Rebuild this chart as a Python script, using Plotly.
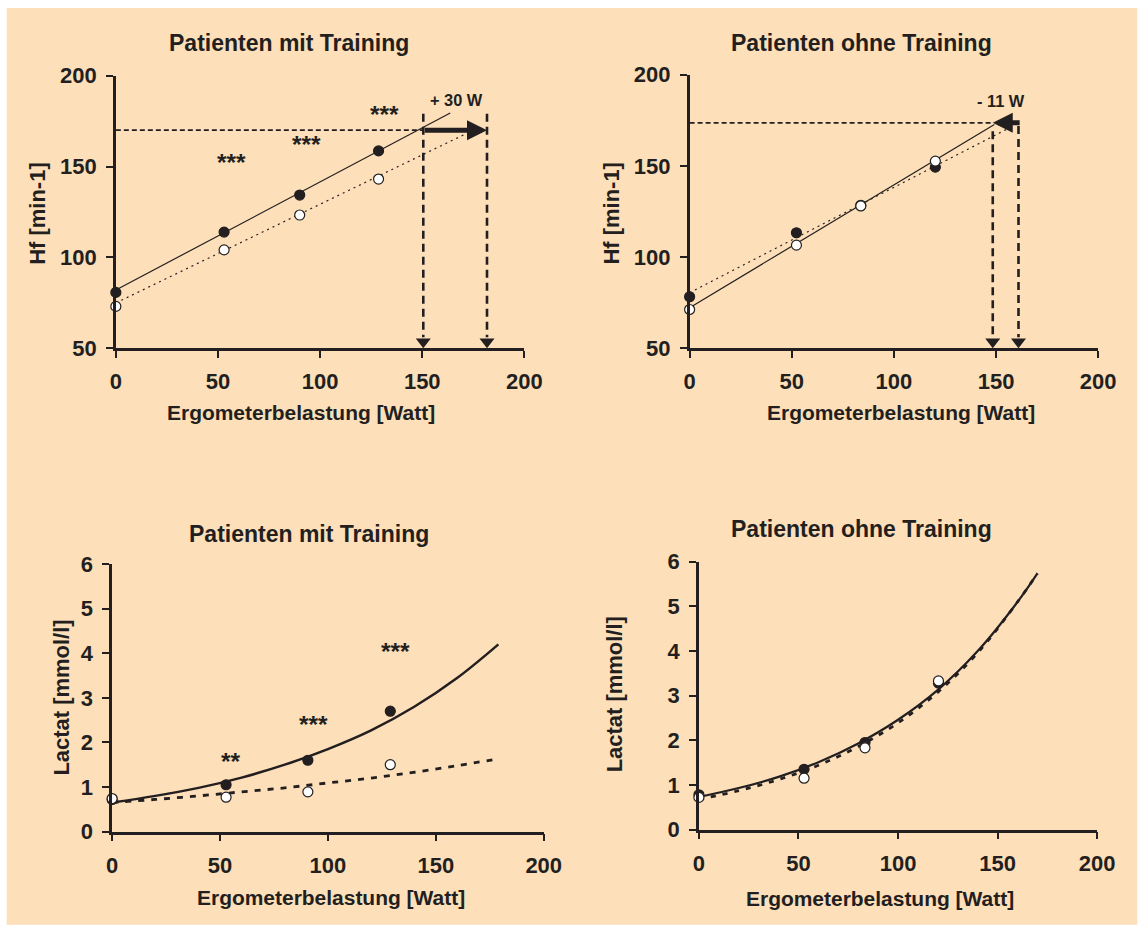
import plotly.graph_objects as go

# ---------------- data ----------------
watt_tl = [0, 53, 90, 128.6]
hf_tl_filled = [80.7, 113.9, 134.3, 158.6]
hf_tl_open = [73.0, 104.1, 123.3, 143.1]
fit_tl_solid_x = [0, 163.7]
fit_tl_solid_y = [82.0, 179.5]
fit_tl_dot_x = [0, 175]
fit_tl_dot_y = [74.9, 170.0]

watt_tr = [0, 52.3, 83.8, 120.3]
hf_tr_filled = [78.2, 113.3, 128.4, 149.3]
hf_tr_open = [71.2, 106.5, 128.0, 152.6]
fit_tr_solid_x = [0, 149.2]
fit_tr_solid_y = [72.2, 172.7]
fit_tr_dot_x = [0, 158.2]
fit_tr_dot_y = [80.4, 171.8]

watt_bl = [0, 52.8, 90.7, 128.9]
lac_bl_filled = [0.72, 1.05, 1.60, 2.70]
lac_bl_open = [0.74, 0.77, 0.89, 1.50]
curve_bl_x = [0, 20, 40, 60, 80, 100, 120, 140, 160, 179]
curve_bl_solid = [0.65, 0.80, 0.98, 1.21, 1.50, 1.85, 2.27, 2.80, 3.45, 4.20]
curve_bl_dash = [0.65, 0.72, 0.80, 0.89, 0.98, 1.09, 1.20, 1.33, 1.48, 1.63]

watt_br = [0, 52.8, 83.4, 120.3]
lac_br_filled = [0.78, 1.35, 1.95, 3.28]
lac_br_open = [0.72, 1.15, 1.83, 3.33]
curve_br_x = [0, 20, 40, 60, 80, 100, 120, 140, 160, 170]
curve_br_solid = [0.73, 0.93, 1.18, 1.51, 1.93, 2.46, 3.13, 4.00, 5.10, 5.74]
curve_br_dash = [0.68, 0.87, 1.12, 1.44, 1.86, 2.39, 3.08, 3.96, 5.10, 5.74]

# threshold constructions
tl_hf_level = 170
tl_watt_from, tl_watt_to = 150.5, 181.7
tl_vert_top = 179
tr_hf_level = 173.6
tr_watt_from, tr_watt_to = 162.3, 148.4
tr_vert_x = [148.4, 161.0]
tr_vert_tops = [169.0, 171.8]

titles = ["Patienten mit Training", "Patienten ohne Training",
          "Patienten mit Training", "Patienten ohne Training"]
xlabel = "Ergometerbelastung [Watt]"
ylabel_top = "Hf [min-1]"
ylabel_bot = "Lactat [mmol/l]"

INK = "#231f20"
BG = "#fddfb9"
FONT = "Liberation Sans, Arial, sans-serif"

# observed mapping from figure pixels to photographed pixels
OFF_X, OFF_Y, SCALE = 6.3, 11.0, 0.978
W, H = 1160, 944
FS = 1 / SCALE


def px(t):
    return (t - OFF_X) / SCALE / W


def py(t):
    return 1 - (t - OFF_Y) / SCALE / H


fig = go.Figure()


def add_points(x, y, filled, ax):
    fig.add_trace(go.Scatter(
        x=x, y=y, mode="markers", xaxis="x" + ax, yaxis="y" + ax,
        marker=dict(size=10, color=INK if filled else "white",
                    line=dict(color=INK, width=1.2)),
        cliponaxis=False, showlegend=False, hoverinfo="skip"))


def add_line(x, y, ax, width, dash, shape="linear"):
    fig.add_trace(go.Scatter(
        x=x, y=y, mode="lines", xaxis="x" + ax, yaxis="y" + ax,
        line=dict(color=INK, width=width, dash=dash, shape=shape),
        cliponaxis=False, showlegend=False, hoverinfo="skip"))


# panel 1 (top-left)
add_line(fit_tl_dot_x, fit_tl_dot_y, "", 1.2, "2px,4px")
add_line(fit_tl_solid_x, fit_tl_solid_y, "", 1.2, "solid")
add_points(watt_tl, hf_tl_open, False, "")
add_points(watt_tl, hf_tl_filled, True, "")

# panel 2 (top-right)
add_line(fit_tr_dot_x, fit_tr_dot_y, "2", 1.2, "2px,4px")
add_line(fit_tr_solid_x, fit_tr_solid_y, "2", 1.2, "solid")
add_points(watt_tr, hf_tr_filled, True, "2")
add_points(watt_tr, hf_tr_open, False, "2")

# panel 3 (bottom-left)
add_line(curve_bl_x, curve_bl_dash, "3", 2.8, "6px,7px", "spline")
add_line(curve_bl_x, curve_bl_solid, "3", 2.5, "solid", "spline")
add_points(watt_bl, lac_bl_filled, True, "3")
add_points(watt_bl, lac_bl_open, False, "3")

# panel 4 (bottom-right)
add_line(curve_br_x, curve_br_dash, "4", 2.8, "5px,7px", "spline")
add_line(curve_br_x, curve_br_solid, "4", 2.2, "solid", "spline")
add_points(watt_br, lac_br_filled, True, "4")
add_points(watt_br, lac_br_open, False, "4")

shapes = []
annotations = []

# background panel
shapes.append(dict(type="rect", xref="paper", yref="paper", layer="below",
                   x0=px(7), x1=px(1136), y0=py(928), y1=py(7),
                   fillcolor=BG, line=dict(width=0)))

# top-left threshold construction
shapes.append(dict(type="line", xref="x", yref="y", x0=0, x1=tl_watt_from,
                   y0=tl_hf_level, y1=tl_hf_level,
                   line=dict(color=INK, width=1.8, dash="5px,3px")))
for xv in [tl_watt_from, tl_watt_to]:
    shapes.append(dict(type="line", xref="x", yref="y", x0=xv, x1=xv,
                       y0=tl_vert_top, y1=56, line=dict(color=INK, width=2.6, dash="8px,5px")))
annotations.append(dict(xref="x", yref="y", axref="x", ayref="y",
                        x=tl_watt_to, y=tl_hf_level, ax=tl_watt_from, ay=tl_hf_level,
                        text="", showarrow=True, arrowhead=2, arrowsize=0.8,
                        arrowwidth=5, arrowcolor=INK))
annotations.append(dict(xref="x", yref="y", x=167, y=186.4, text="<b>+ 30 W</b>",
                        showarrow=False, font=dict(size=16 * FS, color=INK, family=FONT)))
fig.add_trace(go.Scatter(x=[tl_watt_from, tl_watt_to], y=[53.5, 53.5], mode="markers",
                         xaxis="x", yaxis="y",
                         marker=dict(symbol="triangle-down", size=13, color=INK),
                         cliponaxis=False, showlegend=False, hoverinfo="skip"))

# top-right threshold construction
shapes.append(dict(type="line", xref="x2", yref="y2", x0=0, x1=tr_watt_to,
                   y0=tr_hf_level, y1=tr_hf_level,
                   line=dict(color=INK, width=1.8, dash="5px,3px")))
for xv, top in zip(tr_vert_x, tr_vert_tops):
    shapes.append(dict(type="line", xref="x2", yref="y2", x0=xv, x1=xv,
                       y0=top, y1=56, line=dict(color=INK, width=2.6, dash="8px,5px")))
annotations.append(dict(xref="x2", yref="y2", axref="x2", ayref="y2",
                        x=tr_watt_to, y=tr_hf_level, ax=tr_watt_from, ay=tr_hf_level,
                        text="", showarrow=True, arrowhead=2, arrowsize=0.8,
                        arrowwidth=5, arrowcolor=INK))
annotations.append(dict(xref="x2", yref="y2", x=152.5, y=185.5, text="<b>- 11 W</b>",
                        showarrow=False, font=dict(size=16 * FS, color=INK, family=FONT)))
fig.add_trace(go.Scatter(x=tr_vert_x, y=[53.5, 53.5], mode="markers",
                         xaxis="x2", yaxis="y2",
                         marker=dict(symbol="triangle-down", size=13, color=INK),
                         cliponaxis=False, showlegend=False, hoverinfo="skip"))

# significance stars
stars = [("x", "y", 56.7, 155.3, "***"), ("x", "y", 93.1, 165.4, "***"),
         ("x", "y", 131.4, 181.9, "***"),
         ("x3", "y3", 55.2, 1.70, "**"), ("x3", "y3", 93.3, 2.54, "***"),
         ("x3", "y3", 131.5, 4.18, "***")]
for xr, yr, xv, yv, t in stars:
    annotations.append(dict(xref=xr, yref=yr, x=xv, y=yv, text="<b>" + t + "</b>",
                            showarrow=False, yshift=-6,
                            font=dict(size=24 * FS, color=INK, family=FONT)))


# titles and axis titles (photographed pixel positions)
def ptxt(x, y, text, size=21, angle=0):
    annotations.append(dict(xref="paper", yref="paper", x=px(x), y=py(y),
                            text="<b>" + text + "</b>", showarrow=False, textangle=angle,
                            xanchor="center", yanchor="middle",
                            font=dict(size=size * FS, color=INK, family=FONT)))


ptxt(289, 42, titles[0], 22.5)
ptxt(861, 42, titles[1], 22.5)
ptxt(309, 535, titles[2], 22.5)
ptxt(861, 530, titles[3], 22.5)
ptxt(301, 413, xlabel, 20.5)
ptxt(900, 413, xlabel, 20.5)
ptxt(331, 901, xlabel, 20.5)
ptxt(879, 902, xlabel, 20.5)
ptxt(37, 213, ylabel_top, 21.5, angle=-90)
ptxt(611, 213, ylabel_top, 21.5, angle=-90)
ptxt(62, 700, ylabel_bot, 21.5, angle=-90)
ptxt(614, 697, ylabel_bot, 21.5, angle=-90)


def xax(x0, x1, anchor):
    return dict(domain=[px(x0), px(x1)], range=[0, 200], tickvals=[0, 50, 100, 150, 200],
                anchor=anchor,
                showline=True, linewidth=2.5, linecolor=INK, ticks="outside",
                ticklen=7, tickwidth=2.2, tickcolor=INK, showgrid=False, zeroline=False,
                ticklabelstandoff=5,
                tickfont=dict(size=21.5 * FS, color=INK, family=FONT, weight="bold"))


def yax(top, bot, rng, vals, anchor):
    return dict(domain=[py(bot), py(top)], range=rng, tickvals=vals, anchor=anchor,
                showline=True, linewidth=2.5, linecolor=INK, ticks="outside",
                ticklen=7, tickwidth=2.2, tickcolor=INK, showgrid=False, zeroline=False,
                ticklabelstandoff=5,
                tickfont=dict(size=21.5 * FS, color=INK, family=FONT, weight="bold"))


fig.update_layout(
    width=W, height=H, margin=dict(l=0, r=0, t=0, b=0),
    paper_bgcolor="white", plot_bgcolor="rgba(0,0,0,0)",
    showlegend=False,
    xaxis=xax(116, 524, "y"),
    yaxis=yax(75, 348.7, [50, 200], [50, 100, 150, 200], "x"),
    xaxis2=xax(689, 1097, "y2"),
    yaxis2=yax(74, 348.7, [50, 200], [50, 100, 150, 200], "x2"),
    xaxis3=xax(112.3, 543.3, "y3"),
    yaxis3=yax(565.7, 834.3, [0, 6], [0, 1, 2, 3, 4, 5, 6], "x3"),
    xaxis4=xax(698.3, 1096, "y4"),
    yaxis4=yax(563.3, 832.3, [0, 6], [0, 1, 2, 3, 4, 5, 6], "x4"),
    shapes=shapes, annotations=annotations,
    font=dict(family=FONT, color=INK),
)

fig.write_html("out.html")
